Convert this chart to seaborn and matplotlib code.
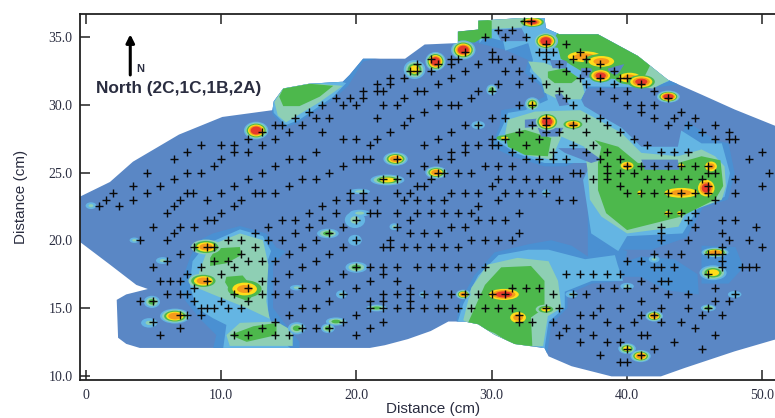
import matplotlib
matplotlib.use('Agg')
import matplotlib.pyplot as plt
from matplotlib.patches import Polygon, Ellipse
import pandas as pd
import seaborn as sns

# Sensor positions, one y value per row of crosses (cm)
row_y = [36.2, 35.5, 35, 34.5, 33.9, 33.4, 33, 32.5, 32, 31.5, 31, 30.5, 30, 29.5, 29, 28.5, 28, 27.5, 27, 26.5,
         26, 25.5, 25, 24.5, 24, 23.5, 23, 22.5, 22, 21.5, 21, 20.5, 20, 19.5, 19, 18.5, 18, 17.5, 17, 16.5,
         16, 15.5, 15, 14.5, 14, 13.5, 13, 12.5, 12, 11.5, 11]
row_x = [
    [32.4, 32.9],
    [30.5, 31.5],
    [29.5, 31, 32.5],
    [34, 35.5],
    [28, 30, 33.5, 34, 34.5, 36.5],
    [25.5, 27, 27.5, 30, 30.5, 31.5, 34, 36, 37],
    [24.5, 26, 27, 29, 35, 38],
    [24, 24.5, 25.5, 28, 31, 32, 35.5, 37, 39],
    [22.5, 23.5, 27, 33, 36.5, 38, 39.5, 40],
    [21.5, 22.5, 26, 30.5, 32, 34, 37, 39, 41],
    [20.5, 21.5, 22, 24.5, 25, 29, 30, 35, 38, 40, 42],
    [18.5, 19.5, 20.5, 23.5, 28.5, 35.5, 39, 43],
    [17.5, 19, 20, 22, 23, 26, 27, 27.5, 32, 33, 36, 40, 41, 42],
    [16.5, 25, 41, 44],
    [15.5, 17, 18, 21.5, 24, 30, 31, 34, 37, 38, 42, 43.5, 45],
    [14, 14.5, 16, 23.5, 28, 29, 33, 34, 36, 38.5, 43, 44.5, 46.5],
    [13, 15, 17.5, 22.5, 27, 32, 34, 35, 37, 39.5, 45.5, 47.5],
    [12, 14, 19, 20, 21.5, 26, 30, 31, 33.5, 40.5, 46.5, 47.5, 48],
    [8.5, 10, 11, 13, 21, 25, 28, 29, 30, 30.5, 32.5, 36, 37.5, 41.5],
    [7.5, 11, 12, 17, 27, 28, 31.5, 34.5, 37, 38.5, 42.5, 43.5, 44.5, 50],
    [6.5, 10, 15, 16, 20, 20.5, 21, 23, 26, 27, 32.5, 33.5, 34.5, 35.5, 38, 39.5, 49],
    [9.5, 14, 19, 25, 29.5, 30.5, 31.5, 38.5, 40, 41, 42, 43, 44, 45, 46],
    [4.5, 7.5, 8.5, 13, 18, 24, 26, 26.5, 27.5, 28.5, 36, 36.5, 38.5, 39.5, 40.5, 46, 46.5, 50.5],
    [6.5, 12, 16, 17, 22, 23, 25.5, 30.5, 31.5, 32.5, 33.5, 34.5, 35, 37.5, 38.5, 41.5, 42.5, 43.5, 44.5, 45.5, 48],
    [3.5, 5.5, 11, 15, 24.5, 25, 30, 39.5, 46, 50],
    [2, 4.5, 7.5, 7.9, 10, 12.5, 13, 14, 19.5, 20.5, 23, 24, 27, 28, 29, 31, 32, 33, 34, 40, 41, 42, 43, 44, 45, 46, 48],
    [1.5, 3.5, 7, 9, 11.5, 18.5, 19.5, 20.5, 21.5, 23.5, 24.5, 25.5, 26.5, 30.5, 35, 36, 46.5],
    [1, 2.5, 6.5, 11, 17.5, 29],
    [6, 10, 16.5, 18.5, 21, 21.5, 23, 24.5, 25.5, 26.5, 27.5, 28.5, 32, 43, 44, 45],
    [9, 9.5, 14.5, 15.5, 17.5, 20, 24, 29, 30, 31, 44.5, 47, 48],
    [5, 7, 8, 13.5, 16.5, 19, 23, 27, 28, 42.5, 45, 49.5],
    [6.5, 12.5, 15.5, 18, 24, 25, 26, 32, 42.5, 47],
    [4, 6, 10.5, 11.5, 13.5, 14.5, 17, 20, 22.5, 28.5, 29.5, 30.5, 31.5, 42.5, 44.5, 47.5, 49],
    [8, 9, 9.5, 12.5, 16, 19, 22, 22.5, 23.5, 24.5, 25.5, 26.5, 27.5, 47, 50],
    [7, 11.5, 15, 18, 42, 43, 44, 46, 46.5, 47],
    [6, 9.5, 10.5, 12, 13, 14, 17, 40, 41, 47],
    [5, 8.5, 11, 16, 20, 21, 22, 23, 24.5, 25.5, 26.5, 27.5, 28.5, 29.5, 42, 42.5, 43.5, 47, 48.5, 49, 49.5],
    [7.5, 10, 15, 19, 22, 35.5, 36.5, 37.5, 38.5, 39.5, 46],
    [5.5, 6.25, 7, 9, 13, 14, 18, 21, 23, 41, 42.5, 43],
    [8, 12, 16, 17, 20, 24, 31.5, 32.5, 33.5, 38, 39, 40, 42, 46.5],
    [6, 7, 7.5, 11, 13, 14, 15, 19, 22, 23, 24, 25, 26, 27, 28, 29, 30, 31, 34.5, 36, 37, 43, 44.5, 48],
    [4, 5, 8, 10, 12, 18, 21, 22, 24, 41, 46.5, 47.5],
    [8.5, 9, 9.5, 10.5, 11.5, 16, 17, 21, 22, 23, 24, 25, 26, 26.5, 27.5, 28.5, 29.5, 30.5, 31.5, 34, 35, 38, 39.5, 42.5, 44.5, 46],
    [7, 7.5, 8.5, 15, 20, 32, 36.5, 37.5, 41, 42, 45.5, 47],
    [5, 14, 19, 22, 32, 33, 34.5, 38.5, 40.5, 42.5, 44],
    [7, 13, 16, 17, 18, 21, 35.5, 36.5, 39.5, 45],
    [5.5, 11, 12, 14, 15, 20, 35, 37.5, 41, 41.5, 46.5],
    [36.5, 38.5, 39.5, 43.5],
    [40, 42, 45.5],
    [38, 41],
    [39.5, 40],
]

# Edge of the mapped area (cm)
outline = [(-0.45, 23.2), (1.8, 24.3), (3.5, 25.8), (6.9, 27.8), (10.1, 29.1), (13.8, 29.6), (13.9, 30.25),
           (14.6, 31.2), (16.5, 31.55), (19, 31.7), (19.5, 32.2), (20.5, 33.4), (23.6, 33.4), (25.05, 34.45),
           (27.5, 34.55), (27.5, 35.4), (29, 35.55), (29, 36.2), (32.2, 36.4), (33.9, 36.4), (34, 35.65),
           (35, 35.2), (37.85, 35.2), (40.8, 33.6), (43, 31.85), (45.5, 30.75), (47.95, 29.65), (51.8, 28.1),
           (51.8, 12.4), (50.9, 12.66), (47.95, 11.8), (44.25, 10.57), (42.5, 9.95), (38.85, 9.95), (35.9, 10.7),
           (34.2, 11.43), (33.9, 12.04), (31.7, 12.34), (30.2, 13.03), (29, 13.8), (28, 14), (26.8, 14),
           (25.5, 13.3), (23.8, 12.7), (22.1, 12.25), (21, 12.05), (4, 12.05), (3, 12.35), (2.4, 12.8),
           (2.3, 15.6), (3, 16), (4.6, 16.4), (3.75, 16.7), (1.8, 18.2), (-0.45, 19.9)]

# Concentration bands, lowest first
medium_zones = [
    [(25, 35), (27.3, 35.6), (28.8, 36.5), (34, 36.6), (35, 35.5), (38, 35.5), (41, 34), (43.3, 32), (43.8, 31.5),
     (42.3, 31.3), (36.9, 31.2), (36.6, 29.9), (37.6, 29.15), (39.35, 28.3), (41.05, 26.7), (43.75, 26.8),
     (44.4, 28.8), (46.5, 27.4), (47.5, 27.15), (47.95, 24.95), (47.45, 23), (45.6, 22.4), (44.4, 20.2),
     (41.8, 19.3), (38.8, 19.3), (38.35, 19.65), (37.1, 18.7), (37.1, 22.3), (36.9, 24), (37.85, 25.7),
     (37.35, 26.2), (35.45, 25.45), (33.9, 25.45), (31.45, 26.2), (30, 26.9), (30.6, 28.5), (30.7, 29.6),
     (32.45, 29.9), (33.9, 30.6), (33.65, 31.35), (32.45, 32.35), (32.7, 33.3), (32, 33.6), (31, 34.05),
     (29, 34.55), (25, 34.55)],
    [(27.4, 14), (27.6, 15.3), (28.7, 17.4), (30.2, 19.1), (32.7, 19.7), (34.4, 20), (35.9, 19.6), (37.1, 18.8),
     (38.4, 19.7), (40, 19.2), (39.7, 17), (37.4, 16.8), (35.6, 16), (35.6, 15), (34.4, 13.8), (34.1, 11.6),
     (33, 11), (30, 12)],
    [(7.7, 18.7), (8.4, 20), (9.4, 20.5), (11.4, 21.05), (13.35, 20.5), (14.1, 19.45), (14.8, 19.2), (13.85, 18.2),
     (13.85, 15), (14.6, 14), (15.8, 12.5), (15.8, 11.9), (9.4, 11.9), (9.65, 13), (8.9, 13.75), (8.4, 14.25),
     (7.4, 15.5), (6.95, 16.5)],
    [(13.7, 30.4), (13.8, 29.3), (14.7, 28.3), (15.8, 28.7), (18.3, 30.4), (19.4, 31.4), (20.5, 33.2), (22.5, 33.6),
     (20.4, 33.7), (19, 32), (14.6, 31.6)],
    [(39.3, 18.2), (41, 18.8), (43.5, 18.6), (45.2, 17.5), (45.3, 16), (43, 16.3), (42, 16.8), (41, 17.3), (39.5, 17.3)],
    [(45.5, 19.6), (48, 19.5), (48.6, 18), (47.5, 16.8), (45.5, 16.8)],
]
light_zones = [
    [(29, 36.5), (34, 36.6), (35, 35.5), (38, 35.5), (41, 34), (43.5, 32), (43, 31.7), (41.8, 31.3), (37.1, 31.35),
     (36.6, 30.4), (36.85, 29.9), (38.1, 29.15), (39.6, 28.3), (41.05, 26.9), (43.75, 26.9), (44, 28.1),
     (45.5, 27.15), (47, 27.15), (47.6, 24.95), (47.2, 23.2), (45.25, 22.4), (44.1, 20.5), (40, 20.3),
     (39.35, 19.2), (37.35, 20.5), (36.75, 24.45), (37.35, 25.7), (35.4, 25.7), (33.9, 25.7), (31.7, 26.45),
     (30.35, 27.4), (30.85, 28.5), (31.2, 29.4), (32.45, 29.6), (34.15, 30.35), (33.9, 31.35), (32.8, 32.45),
     (33.05, 33.3), (32.7, 34.55), (31, 34), (30.85, 34.7), (29.5, 35.05), (29.1, 34.55)],
    [(27.5, 14), (27.9, 15.3), (29, 17.4), (30.5, 18.9), (32.7, 19.3), (34.2, 19.3), (36.9, 18.6), (39.1, 18.9),
     (39.3, 18.2), (39.7, 17), (37.4, 17), (35.4, 16.2), (35.4, 15), (34.2, 14), (33.9, 12)],
    [(7.9, 18.45), (8.9, 19.7), (11.4, 20.8), (13.1, 20.3), (13.7, 19.2), (13.35, 18.2), (13.5, 14.5), (14, 13.3),
     (14.8, 12.3), (15.3, 11.9), (10.15, 11.9), (10.4, 13.75), (9.4, 14.25), (8.2, 15), (7.7, 16.7)],
    [(13.8, 30.3), (13.9, 29.4), (14.8, 28.5), (15.8, 28.9), (18.3, 30.6), (19.25, 31.6), (18.5, 31.8), (14.6, 31.4)],
]
teal_zones = [
    [(29, 36.5), (33, 36.6), (32.2, 35.7), (30, 35.6), (29.6, 35), (29, 35.1)],
    [(40.6, 34), (43.3, 31.9), (41.9, 31.2), (40.9, 31.3)],
    [(32.7, 33.2), (33.9, 33.1), (36.6, 31.9), (36.85, 30.9), (36.6, 30.4), (34.9, 30.4), (33.9, 30.9), (33.65, 31.9),
     (33.05, 32.5)],
    [(31.2, 28.9), (33.2, 29.5), (36.55, 29.6), (37.85, 28.9), (39.6, 27.9), (41.05, 26.45), (43.75, 26.2),
     (45.5, 26.7), (46.5, 26.2), (47.2, 25.45), (47.3, 24), (47, 23), (44.3, 22), (43.8, 21), (40, 20.5),
     (38.1, 21.75), (37.25, 23), (37.1, 25), (36.85, 26.9), (35.15, 27.65), (34.4, 25.95), (32.45, 26.3),
     (31.3, 26.9), (31, 27.9)],
    [(27.9, 14.1), (28.5, 16.5), (29.7, 18.2), (31.9, 18.7), (34.2, 18.45), (34.9, 17), (35.15, 15), (34.15, 14.4),
     (33.8, 12.2), (31, 12)],
    [(9.4, 19.7), (11.4, 20.5), (13.1, 20), (13.5, 18.2), (13.35, 15.5), (13.6, 14.2), (11.9, 15), (9.4, 16),
     (8.2, 16.5), (8.4, 17.7), (8.9, 19)],
    [(10.4, 13), (11.4, 13.9), (14.1, 14), (15.3, 13.3), (15.3, 12.2), (10.65, 12.2)],
    [(13.95, 30.2), (14.2, 29.2), (14.8, 28.7), (17.3, 30.2), (19, 31.4), (16.5, 31.6), (14.6, 31.3)],
]
green_zones = [
    [(35, 35.5), (38, 35.5), (41, 34), (41.8, 33.1), (41.1, 31.7), (38.1, 32), (36.6, 32.5), (35.1, 33.4),
     (34.9, 34.2), (34.2, 34.3)],
    [(34.15, 32.45), (35.4, 32.7), (36.4, 32), (35.9, 31.6), (34.65, 31.6), (34.15, 32)],
    [(27.5, 35.5), (29, 35.6), (29, 36.4), (30, 36.2), (30, 34.9), (29.25, 34.9), (28.75, 34.6), (27.5, 34.6)],
    [(37.6, 27.4), (39.35, 26.9), (40.8, 25.7), (43.75, 25.7), (45.5, 26.2), (46.9, 25.9), (47.1, 24), (46.5, 23),
     (44, 21.75), (40, 20.75), (38.45, 22), (37.85, 23.7), (37.85, 25.7), (38.1, 26.9)],
    [(31, 27.8), (32.45, 28.15), (34.4, 27.55), (34.15, 26.2), (32.45, 26.3), (31.2, 26.9)],
    [(28.25, 13.9), (29.5, 16.7), (30.7, 18), (32.9, 18.1), (33.9, 17), (33.9, 15), (32.9, 14.3), (33, 12.2),
     (31.7, 12.2), (30.2, 13.15)],
    [(9.65, 19.4), (11.4, 19.5), (11.5, 18.9), (10.4, 18.3), (9.2, 18.1), (9.2, 18.7)],
    [(10.4, 17.3), (11.6, 17.4), (12.6, 16.2), (12, 15.5), (10.9, 15.9), (10.3, 16.9)],
    [(10.65, 13), (12.4, 13.65), (14.1, 13.9), (14.1, 13), (11.9, 12.5)],
    [(14.6, 31.2), (16.55, 31.55), (18.3, 31.4), (17.3, 30.6), (15.8, 29.9), (14.6, 29.9), (14.3, 30.6)],
]
# Low patches left inside the higher bands
low_pockets = [
    [(30.25, 35.55), (32.2, 35.65), (32.7, 34.7), (30.7, 34.7)],
    [(34.3, 33.3), (35.6, 33.3), (35.5, 32.7), (34.5, 32.7)],
    [(36.6, 32.7), (37.35, 32.7), (37.6, 32), (36.6, 32)],
    [(38.6, 32.7), (39.8, 33), (39.3, 32.2), (38.6, 32.35)],
    [(34.65, 30.75), (35.15, 30.85), (35.75, 30), (35, 29.9)],
    [(32.45, 28.9), (33.6, 29), (33.6, 28.4), (32.45, 28.3)],
    [(33.4, 28.3), (35.3, 28.3), (34.9, 27.65), (33.65, 27.65)],
    [(34.9, 26.8), (36.9, 26.8), (38.1, 25.95), (37.35, 25.7), (35.4, 26.45)],
    [(41.05, 25.95), (43.75, 25.95), (43.85, 25.2), (41.3, 25.2)],
]

# Small peaks: centre, width and height in cm, lowest and highest band shown (1 light blue ... 6 red)
peak_x = [12.6, 0.4, 8.9, 8.7, 6.6, 11.75, 4.9, 4.7, 5.7, 3.6, 17.9, 19.9, 19.9, 20, 15.6, 18.9, 21.5, 18.5, 17.9, 15.6,
          20.25, 20.25, 22.9, 22.3, 25.9, 24.3, 25.85, 27.9, 33, 34, 36.85, 38.1, 38.05, 40.2, 41.05, 43.05, 30, 33,
          34.1, 36, 29, 30.95, 40, 40.95, 44, 45.85, 46.2, 44, 34, 43, 43.9, 22.8, 24.9, 27.9, 30.9, 31.95, 34, 35.9,
          40, 42, 42, 46.5, 46.35, 47.95, 46, 40, 41]
peak_y = [28.1, 22.55, 19.5, 17, 14.4, 16.4, 15.45, 13.9, 18.5, 20, 20.5, 21.5, 20, 18, 16.5, 16, 15, 14, 13.5, 13.5,
          22, 23.6, 26, 24.45, 25, 32.6, 33.2, 34.05, 36.1, 34.7, 33.55, 33.2, 32.15, 32, 31.7, 30.6, 31.1, 30.05,
          28.75, 28.55, 28.5, 27.55, 25.5, 23.5, 23.5, 23.85, 25.45, 25.5, 23.5, 22, 22, 21, 16, 16, 16, 14.3, 14.9, 16,
          16.6, 14.4, 18.6, 19.1, 17.6, 16, 15, 12, 11.45]
peak_w = [1.8, 0.8, 2.2, 2.2, 2.2, 2.5, 1.2, 1.2, 1, 0.7, 1.6, 1.5, 1, 1.6, 1, 0.8, 1.5, 1.5, 1, 1.3,
          1.5, 1.5, 1.8, 2.5, 1.6, 1.6, 1.5, 1.8, 1.7, 1.8, 3.4, 2.6, 1.7, 2.2, 2, 1.7, 0.8, 1.1,
          1.7, 1.7, 1, 1.2, 1.3, 0.8, 3.4, 1.5, 1.2, 0.4, 0.6, 1, 0.4, 0.7, 0.5, 1.1, 2.7, 1.6, 1.5, 0.9,
          1, 1.3, 0.8, 2, 2, 1, 1.1, 1.3, 1.5]
peak_h = [1.3, 0.5, 1.1, 1.1, 1.1, 1.3, 0.9, 0.7, 0.5, 0.4, 0.7, 1.2, 0.8, 0.8, 0.4, 0.6, 0.5, 0.6, 0.7, 0.9,
          0.5, 0.4, 1, 0.8, 0.9, 1.4, 1.4, 1.4, 0.7, 1.3, 1.1, 1.1, 1, 1, 1, 0.9, 0.8, 1,
          1.3, 0.8, 0.6, 0.4, 0.8, 0.7, 1, 1.5, 1, 0.3, 0.5, 0.7, 0.3, 0.5, 0.4, 0.7, 1, 1.1, 0.7, 0.5,
          0.5, 0.8, 0.5, 0.7, 1.1, 0.5, 0.5, 0.8, 0.9]
peak_low = [1, 1, 2, 2, 1, 3, 1, 1, 1, 1, 1, 1, 1, 1, 1, 1, 1, 1, 1, 1,
            1, 1, 1, 1, 1, 1, 1, 1, 3, 1, 3, 3, 3, 3, 3, 1, 1, 1,
            2, 2, 1, 3, 3, 3, 3, 3, 3, 4, 1, 3, 4, 1, 1, 1, 3, 3, 2, 1,
            1, 1, 1, 1, 1, 1, 1, 1, 1]
peak_top = [6, 2, 5, 5, 5, 5, 3, 2, 2, 2, 3, 2, 1, 3, 2, 2, 3, 3, 3, 3,
            2, 2, 5, 4, 5, 4, 6, 6, 6, 6, 5, 5, 6, 5, 6, 6, 3, 4,
            6, 5, 2, 4, 5, 4, 5, 6, 5, 4, 2, 4, 4, 2, 2, 5, 6, 5, 4, 2,
            2, 5, 2, 5, 4, 1, 3, 4, 5]

x_ticks = [0, 10, 20, 30, 40, 50]
x_tick_labels = ['0', '10.0', '20.0', '30.0', '40.0', '50.0']
y_ticks = [10, 15, 20, 25, 30, 35]
y_tick_labels = ['10.0', '15.0', '20.0', '25.0', '30.0', '35.0']

base_blue = '#5A87C5'
band_colors = {1: '#64B5E3', 2: '#8ECFB4', 3: '#4DB84C', 4: '#FFDD1A', 5: '#F59A1C', 6: '#E63A2B'}
text_color = '#2A2D40'

sns.set_style('ticks')
fig = plt.figure(figsize=(7.75, 4.18), dpi=100)
ax = fig.add_axes([79.5 / 775, 38.5 / 418, 706.5 / 775, 365.5 / 418])

# Map area first, everything else gets clipped to it
edge = Polygon(outline, closed=True, facecolor=base_blue, edgecolor='none', zorder=1)
ax.add_patch(edge)


def draw_zones(zones, color, zorder):
    for zone in zones:
        xs = [p[0] for p in zone]
        ys = [p[1] for p in zone]
        for patch in ax.fill(xs, ys, color=color, linewidth=0, zorder=zorder):
            patch.set_clip_path(edge)


draw_zones(medium_zones, '#4A90D2', 2)
draw_zones(light_zones, band_colors[1], 3)
draw_zones(teal_zones, band_colors[2], 4)
draw_zones(green_zones, band_colors[3], 5)
draw_zones(low_pockets, base_blue, 6)

# Peaks are nested ellipses, one per band
for x, y, w, h, low, top in zip(peak_x, peak_y, peak_w, peak_h, peak_low, peak_top):
    for level in range(low, top + 1):
        scale = 1 - 0.55 * (level - low) / max(top - low, 1)
        blob = Ellipse((x, y), w * scale, h * scale, facecolor=band_colors[level], edgecolor='none', zorder=7)
        ax.add_patch(blob)
        blob.set_clip_path(edge)

# Sensor crosses
df = pd.DataFrame({'x': [v for xs in row_x for v in xs],
                   'y': [y for y, xs in zip(row_y, row_x) for v in xs]})
sns.scatterplot(data=df, x='x', y='y', marker='+', color='#0A0A0A', s=36, linewidth=1.0, zorder=8, ax=ax)

ax.set_xlim(-0.45, 51.74)
ax.set_ylim(9.72, 36.7)
ax.set_xticks(x_ticks)
ax.set_xticklabels(x_tick_labels, family='Liberation Serif', fontsize=10, color=text_color)
ax.set_yticks(y_ticks)
ax.set_yticklabels(y_tick_labels, family='Liberation Serif', fontsize=10, color=text_color)
ax.tick_params(direction='in', length=7, width=1.1, top=True, right=True, color='#222222')
ax.tick_params(axis='x', pad=7)
ax.tick_params(axis='y', pad=5)
for spine in ax.spines.values():
    spine.set_visible(True)
    spine.set_linewidth(1.3)
    spine.set_color('#222222')
ax.set_xlabel('Distance (cm)', family='Liberation Sans', fontsize=11, color=text_color, labelpad=0)
ax.set_ylabel('Distance (cm)', family='Liberation Sans', fontsize=11, color=text_color, labelpad=15)

ax.annotate('', xy=(3.3, 35.2), xytext=(3.3, 32.2),
            arrowprops=dict(arrowstyle='-|>', color='black', lw=2.2, mutation_scale=12, shrinkA=0, shrinkB=0))
ax.text(3.75, 32.65, 'N', family='Liberation Sans', fontsize=8, fontweight='bold', color=text_color, va='center')
ax.text(0.74, 31.2, 'North (2C,1C,1B,2A)', family='Liberation Sans', fontsize=12.4, fontweight='bold',
        color=text_color, va='center')

fig.savefig('out.png', dpi=100)
